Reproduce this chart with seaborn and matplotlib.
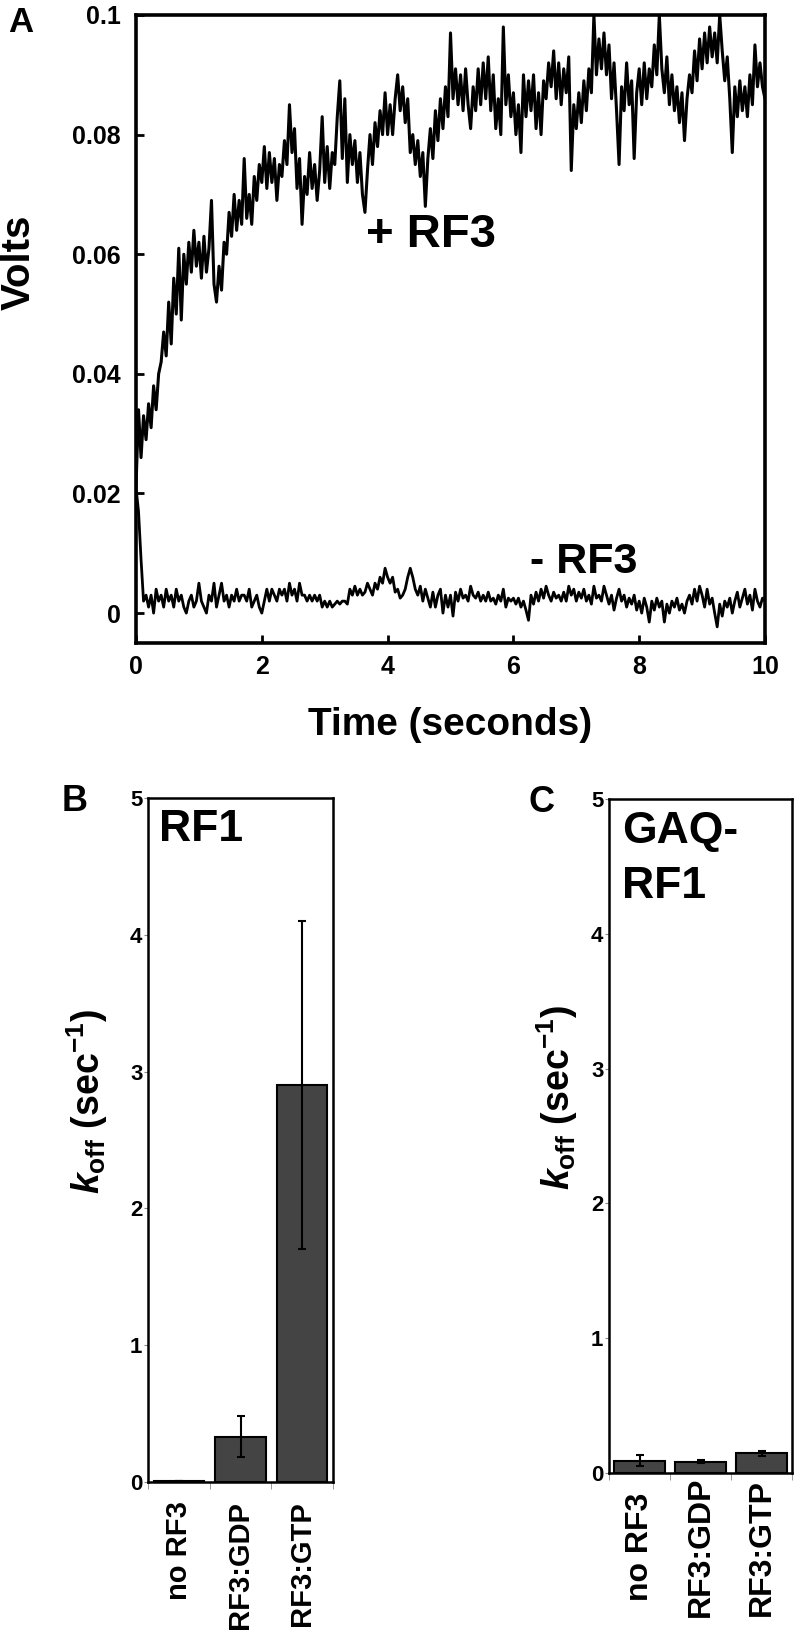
import matplotlib
matplotlib.use("Agg")
import matplotlib.pyplot as plt
import matplotlib.transforms as mtransforms
import numpy as np
import seaborn as sns

# ---- data ----
# panel A: stopped-flow traces, sampled every 0.04 s (values in mV)
STEP = 0.04
plus_rf3_mv = [
    21, 34, 26, 33, 29, 35, 31, 38, 34, 40, 42, 47, 43, 52, 45, 56, 50, 61, 49, 60, 55, 62, 57, 64, 58,
    62, 56, 63, 57, 61, 69, 55, 52, 58, 54, 62, 60, 67, 63, 70, 64, 69, 65, 76, 66, 70, 65, 73, 69, 75,
    72, 78, 71, 77, 72, 76, 69, 75, 73, 79, 75, 85, 77, 81, 71, 76, 65, 73, 70, 77, 71, 75, 69, 74, 83,
    72, 78, 71, 77, 75, 83, 89, 76, 86, 72, 80, 75, 79, 72, 77, 70, 67, 74, 80, 75, 82, 78, 84, 80, 87,
    80, 85, 80, 86, 90, 84, 88, 82, 86, 77, 80, 75, 79, 73, 77, 68, 76, 81, 76, 84, 79, 86, 81, 88, 83,
    97, 86, 91, 85, 90, 84, 91, 85, 81, 88, 84, 91, 85, 92, 86, 93, 84, 90, 81, 86, 80, 98, 85, 90, 83,
    87, 80, 85, 77, 90, 83, 89, 84, 90, 81, 87, 80, 89, 86, 92, 88, 94, 86, 92, 85, 91, 87, 93, 74, 85,
    81, 87, 82, 89, 84, 91, 87, 100, 90, 96, 91, 97, 90, 95, 86, 92, 84, 75, 88, 84, 92, 85, 89, 76, 87,
    91, 85, 92, 86, 91, 88, 95, 90, 100, 91, 87, 93, 85, 90, 84, 88, 82, 87, 79, 86, 90, 87, 94, 89, 96,
    91, 97, 92, 98, 93, 97, 92, 100, 94, 89, 93, 86, 77, 88, 83, 89, 84, 88, 83, 90, 85, 95, 88, 92, 88,
    86,
]
minus_rf3_mv = [
    21, 17, 9, 2, 3, 1, 3, 0, 4, 2, 3, 1, 4, 2, 3, 1, 4, 2, 3, 1, 0, 2, 3, 1, 2,
    5, 2, 1, 0, 3, 2, 5, 1, 3, 5, 2, 3, 1, 3, 2, 4, 2, 3, 3, 2, 4, 1, 2, 3, 1,
    0, 2, 4, 2, 4, 3, 2, 4, 3, 4, 2, 5, 3, 4, 2, 5, 3, 3, 2, 3, 2, 3, 2, 3, 1,
    2, 1, 2, 1, 1.5, 2, 1.5, 2, 2, 1.5, 4, 3, 4.5, 3, 4, 3, 3.5, 5, 4, 3, 5, 4, 6, 5, 7.5,
    6, 5, 6, 3.5, 4, 2.5, 3, 4, 6, 7.5, 6, 4, 3, 4.5, 2, 4, 2.5, 1, 3.5, 1, 3, 4, 0, 3, 1,
    3, -0.5, 3.5, 2, 4, 2.5, 3, 2, 4.5, 3, 2.5, 3.5, 2, 3, 2, 3.5, 2, 2.5, 1.5, 3, 2, 4, 1, 2.5, 2,
    2.5, 1.5, 2.5, 1, 2, 0.5, -1.2, 3, 1.5, 3.5, 2, 4, 2.5, 4.5, 3, 2, 3.5, 2.5, 3, 2, 3.5, 2, 4.5, 3, 4,
    2, 3.5, 2.5, 4, 2, 3, 1.5, 4.5, 2.5, 3, 2, 4.5, 3, 1.5, 3, 0.5, 2.5, 4, 2, 3, 1, 2.5, 1.5, 3, 0.5,
    2, 0, 2.5, 1, -1.5, 2, 0.5, 2.5, 1, 2, -1.5, 1.5, 0, 2, 1, 2.5, 0.5, 1.5, 0, 2, 3, 1.5, 4, 2, 4.5,
    3, 1, 4, 1.5, 2.5, 0, -2.3, 1.5, -0.5, 2, 1, 2.5, 0, 2, 3.5, 1, 2.5, 4, 1.5, 3, 0.5, 4, 2, 1, 2.5,
    2,
]

# panels B and C: k_off (sec^-1), mean and error
conditions = ["no RF3", "RF3:GDP", "RF3:GTP"]
rf1_koff = [0.005, 0.33, 2.9]
rf1_err = [0.0, 0.15, 1.2]
gaq_koff = [0.09, 0.085, 0.145]
gaq_err = [0.04, 0.01, 0.02]

plus_rf3 = np.array(plus_rf3_mv) / 1000
minus_rf3 = np.array(minus_rf3_mv) / 1000
t_plus = np.arange(len(plus_rf3)) * STEP
t_minus = np.arange(len(minus_rf3)) * STEP

sns.set_style("ticks")
plt.rcParams["font.family"] = ["Liberation Sans", "DejaVu Sans"]
plt.rcParams["font.weight"] = "bold"
for key in ["text.color", "axes.labelcolor", "xtick.color", "ytick.color", "axes.edgecolor"]:
    plt.rcParams[key] = "black"
plt.rcParams["mathtext.fontset"] = "custom"
plt.rcParams["mathtext.rm"] = "Liberation Sans:bold"
plt.rcParams["mathtext.it"] = "Liberation Sans:italic:bold"
plt.rcParams["mathtext.bf"] = "Liberation Sans:bold"

W, H = 795, 1638
fig = plt.figure(figsize=(W / 100, H / 100), dpi=100)


def box(left, top, right, bottom):
    return [left / W, 1 - bottom / H, (right - left) / W, (bottom - top) / H]


# ---- panel A ----
axA = fig.add_axes(box(136, 15, 765, 643))
sns.lineplot(x=t_plus, y=plus_rf3, ax=axA, color="black", lw=2.2, estimator=None)
sns.lineplot(x=t_minus, y=minus_rf3, ax=axA, color="black", lw=2.0, estimator=None)
axA.set_xlim(0, 10)
axA.set_ylim(-0.005, 0.1)
axA.set_xticks([0, 2, 4, 6, 8, 10])
axA.set_yticks([0, 0.02, 0.04, 0.06, 0.08, 0.1])
axA.set_yticklabels(["0", "0.02", "0.04", "0.06", "0.08", "0.1"])
axA.tick_params(direction="in", length=6, width=2, labelsize=18, color="black")
axA.tick_params(axis="x", pad=9)
axA.tick_params(axis="y", pad=11)
for s in axA.spines.values():
    s.set_linewidth(2.6)
axA.set_xlabel("")
axA.set_ylabel("")
axA.text(3.65, 0.0612, "+ RF3", fontsize=34, fontweight="bold", va="baseline")
axA.text(6.27, 0.0067, "- RF3", fontsize=31, fontweight="bold", va="baseline")
fig.text(450 / W, 1 - 725 / H, "Time (seconds)", fontsize=28, fontweight="bold",
         ha="center", va="center")
fig.text(21 / W, 1 - 22 / H, "A", fontsize=25, fontweight="bold", ha="center", va="center")
fig.text(19 / W, 1 - 262 / H, "Volts", fontsize=29, fontweight="bold",
         rotation=90, ha="center", va="center")


# ---- panels B and C ----
def bar_panel(ax, values, errs):
    sns.barplot(x=conditions, y=values, ax=ax, color="#444444", edgecolor="black",
                linewidth=1.5, width=0.82, saturation=1)
    ax.errorbar(range(len(values)), values, yerr=errs, fmt="none", ecolor="black",
                elinewidth=1.5, capsize=3, capthick=1.5)
    ax.set_xlim(-0.5, 2.5)
    ax.set_ylim(0, 5)
    ax.set_yticks(range(6))
    ax.set_xticks([0, 1, 2])
    ax.set_xticklabels([])
    ax.set_xticks([-0.5, 0.5, 1.5, 2.5], minor=True)
    ax.tick_params(axis="x", which="major", length=0)
    ax.tick_params(axis="x", which="minor", length=5, color="#888888")
    ax.tick_params(axis="y", length=3, color="#888888", labelsize=16, pad=1)
    for s in ax.spines.values():
        s.set_visible(True)
        s.set_linewidth(1.8)
    ax.set_xlabel("")
    ax.set_ylabel("")


def category_labels(ax, y_px, size, va):
    # rotated category names under the bars, placed at a pixel row of the figure
    trans = mtransforms.blended_transform_factory(ax.transData, fig.transFigure)
    for i, name in enumerate(conditions):
        ax.text(i, 1 - y_px / H, name, transform=trans, rotation=90, ha="center",
                va=va, fontsize=size, fontweight="bold")


axB = fig.add_axes(box(148, 798, 333, 1482))
bar_panel(axB, rf1_koff, rf1_err)
category_labels(axB, 1501, 21, "top")
axB.text(0.06, 0.937, "RF1", transform=axB.transAxes, fontsize=32,
         fontweight="bold", va="baseline")

axC = fig.add_axes(box(609, 799, 792, 1473))
bar_panel(axC, gaq_koff, gaq_err)
category_labels(axC, 1547, 23, "center")
axC.text(0.07, 0.935, "GAQ-", transform=axC.transAxes, fontsize=32,
         fontweight="bold", va="baseline")
axC.text(0.07, 0.853, "RF1", transform=axC.transAxes, fontsize=32,
         fontweight="bold", va="baseline")

ylab = r"$k_{\rm off}$ (sec$^{-1}$)"
fig.text(87 / W, 1 - 1102 / H, ylab, fontsize=27, fontweight="bold",
         rotation=90, ha="center", va="center")
fig.text(557 / W, 1 - 1098 / H, ylab, fontsize=27, fontweight="bold",
         rotation=90, ha="center", va="center")
fig.text(75 / W, 1 - 801 / H, "B", fontsize=26, fontweight="bold", ha="center", va="center")
fig.text(541 / W, 1 - 802 / H, "C", fontsize=26, fontweight="bold", ha="center", va="center")

fig.savefig("out.png", dpi=100, facecolor="white")
